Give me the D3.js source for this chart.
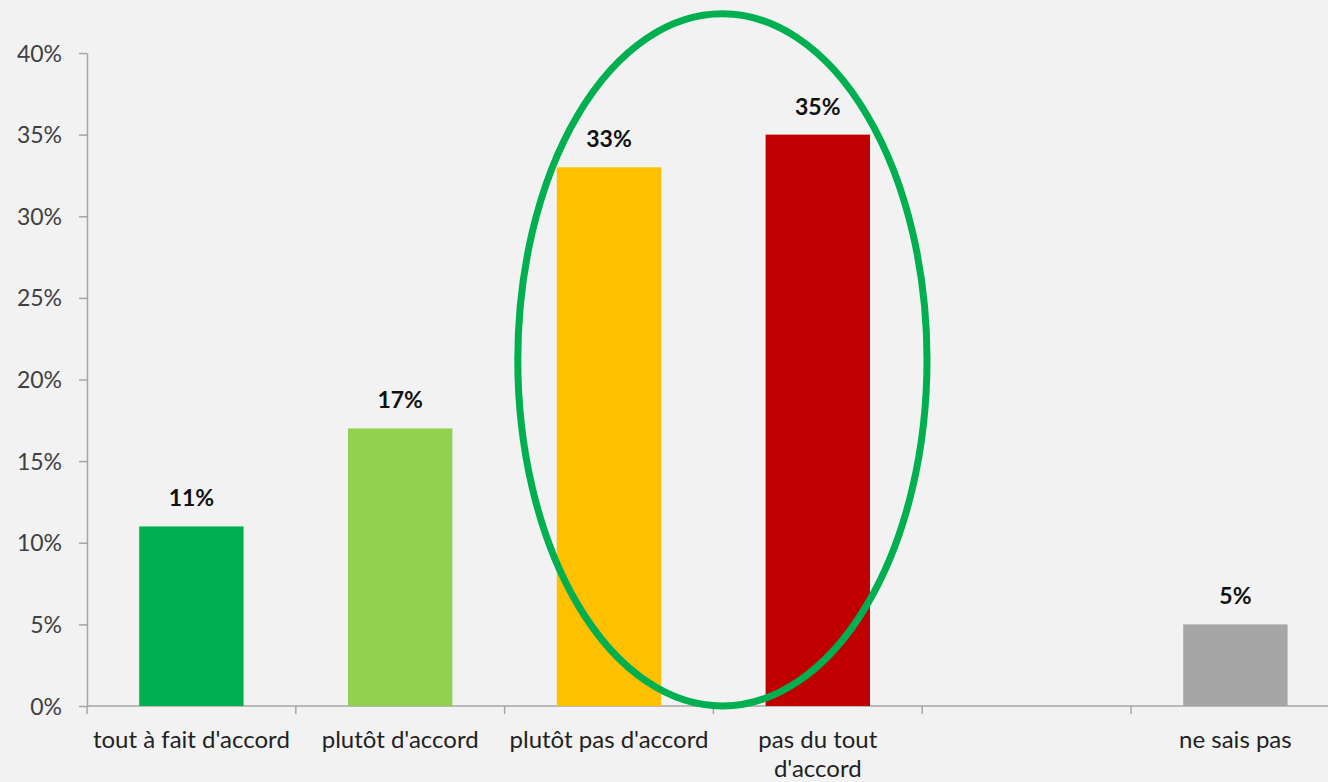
<!DOCTYPE html>
<html>
<head>
<meta charset="utf-8">
<script src="https://cdn.jsdelivr.net/npm/d3@7"></script>
<style>
  html, body { margin: 0; padding: 0; background: #f2f2f2; }
  svg { display: block; }
  text { font-family: Lato, "Open Sans", sans-serif; }
</style>
</head>
<body>
<svg id="chart" width="1328" height="782"></svg>
<script>
const categories = ["tout à fait d'accord", "plutôt d'accord", "plutôt pas d'accord", "pas du tout d'accord", "", "ne sais pas"];
const values = [11, 17, 33, 35, null, 5];
const colors = ["#00b050", "#92d050", "#ffc000", "#c00000", "none", "#a6a6a6"];
const yTicks = [0, 5, 10, 15, 20, 25, 30, 35, 40];
const labelLines = [["tout à fait d'accord"], ["plutôt d'accord"], ["plutôt pas d'accord"], ["pas du tout", "d'accord"], [], ["ne sais pas"]];
const highlighted = ["plutôt pas d'accord", "pas du tout d'accord"];

const svg = d3.select("#chart");
const x0 = 87, step = 208.8;
const x = d3.scaleBand().domain(categories.map((c, i) => i)).range([x0, x0 + step * categories.length])
  .paddingInner(0.5).paddingOuter(0.25);
const y = d3.scaleLinear().domain([0, 40]).range([706, 53]);

const axisColor = "#a6a6a6";
const textColor = "#404040";

// Y axis
const yAxis = svg.append("g").attr("transform", `translate(${x0},0)`)
  .call(d3.axisLeft(y).tickValues(yTicks).tickFormat(d => d + "%").tickSize(8).tickSizeOuter(0));
yAxis.select(".domain").attr("stroke", axisColor).attr("stroke-width", 1.5);
yAxis.selectAll(".tick line").attr("stroke", axisColor).attr("stroke-width", 1.5);
yAxis.selectAll(".tick text").attr("fill", textColor).attr("font-size", 23).attr("x", -25).attr("dy", "0.35em")
  .attr("font-family", "Lato, sans-serif");

// X axis line
svg.append("line").attr("x1", x0).attr("x2", 1328).attr("y1", y(0)).attr("y2", y(0))
  .attr("stroke", axisColor).attr("stroke-width", 1.5);
// X ticks at band boundaries
svg.append("g").selectAll("line").data(d3.range(categories.length + 1)).join("line")
  .attr("x1", i => x0 + i * step).attr("x2", i => x0 + i * step)
  .attr("y1", y(0)).attr("y2", y(0) + 8)
  .attr("stroke", axisColor).attr("stroke-width", 1.5);

// Bars
const data = categories.map((c, i) => ({ i, c, v: values[i], color: colors[i] })).filter(d => d.v != null);
svg.append("g").selectAll("rect").data(data).join("rect")
  .attr("x", d => x(d.i)).attr("width", x.bandwidth())
  .attr("y", d => y(d.v)).attr("height", d => y(0) - y(d.v))
  .attr("fill", d => d.color);

// Value labels
svg.append("g").selectAll("text").data(data).join("text")
  .attr("x", d => x(d.i) + x.bandwidth() / 2).attr("y", d => y(d.v) - 20)
  .attr("text-anchor", "middle").attr("font-weight", "bold").attr("font-size", 23)
  .attr("fill", "#111").text(d => d.v + "%");

// Category labels
const lab = svg.append("g").selectAll("text").data(categories.map((c, i) => ({ i, lines: labelLines[i] }))).join("text")
  .attr("text-anchor", "middle").attr("font-size", 24).attr("fill", "#222");
lab.each(function(d) {
  const t = d3.select(this);
  d.lines.forEach((ln, k) => {
    t.append("tspan").attr("x", x(d.i) + x.bandwidth() / 2).attr("y", 748 + k * 29).text(ln);
  });
});

// Highlight ellipse around two categories
const i1 = categories.indexOf(highlighted[0]), i2 = categories.indexOf(highlighted[1]);
const left = x(i1) - 39, right = x(i2) + x.bandwidth() + 57;
svg.append("ellipse")
  .attr("cx", (left + right) / 2).attr("cy", (y(0) + y(42.4)) / 2)
  .attr("rx", (right - left) / 2).attr("ry", (y(0) - y(42.4)) / 2)
  .attr("fill", "none").attr("stroke", "#00b050").attr("stroke-width", 7);
</script>
</body>
</html>
